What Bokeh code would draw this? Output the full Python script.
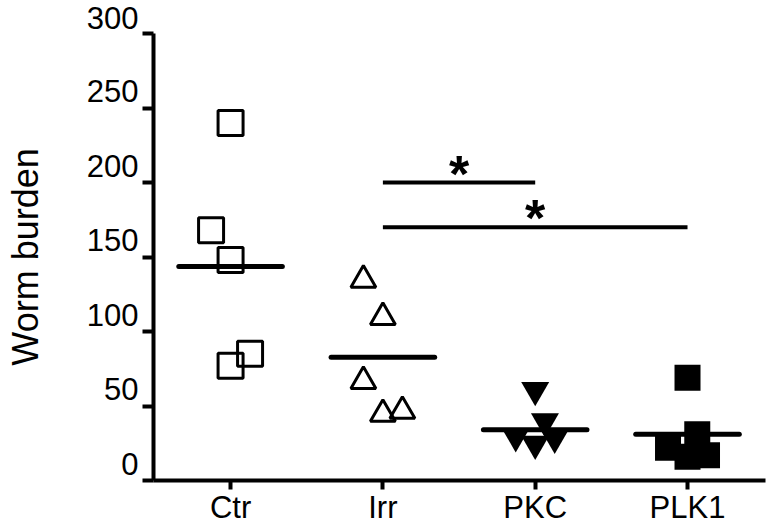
import numpy as np
from bokeh.plotting import figure
from bokeh.models import Range1d, FixedTicker, ColumnDataSource
from bokeh.core.properties import value
from bokeh.transform import dodge
from bokeh.embed import file_html
from bokeh.resources import INLINE

# ---------------- data ----------------
groups = ["Ctr", "Irr", "PKC", "PLK1"]
ctr = [240, 168, 148, 85, 77]
irr = [137, 112, 69, 47, 49]
pkc = [58, 37, 27, 22, 26]
plk1 = [69, 31, 22, 16, 17]
y_ticks = [0, 50, 100, 150, 200, 250, 300]
y_tick_labels = ["0", "50", "100", "150", "200", "250", "300"]
y_title = "Worm burden"
sig_from = ["Irr", "Irr"]
sig_to = ["PKC", "PLK1"]
sig_level = [200, 170]
sig_mark = ["*", "*"]

# ---------------- layout / style ----------------
slots = {
    "Ctr": [0, -1, 0, 1, 0],
    "Irr": [-1, 0, -1, 0, 1],
    "PKC": [0, 0.5, -1, 0, 1],
    "PLK1": [0, 0.5, -1, 0, 1],
}
SLOT_W = 0.128
MEAN_HALF = 0.34
FONT = "Liberation Sans"
X0, X1 = 0.494, 4.512
Y0, Y1 = 0, 300
FRAME_H = 447
PX = (Y1 - Y0) / FRAME_H  # data units per pixel

styles = {
    "Ctr": dict(marker="square", size=25, fill_color=None, line_color="black", line_width=3),
    "Irr": dict(marker="triangle", size=25, fill_color=None, line_color="black", line_width=3),
    "PKC": dict(marker="inverted_triangle", size=28, fill_color="black", line_color=None),
    "PLK1": dict(marker="square", size=26, fill_color="black", line_color=None),
}
y_shift_px = {"Ctr": 0, "Irr": -3.6, "PKC": 4.0, "PLK1": 0}

values = {"Ctr": ctr, "Irr": irr, "PKC": pkc, "PLK1": plk1}
xpos = {g: i + 1 for i, g in enumerate(groups)}

p = figure(width=771, height=527,
           x_range=Range1d(X0, X1), y_range=Range1d(Y0, Y1),
           output_backend="svg", toolbar_location=None,
           min_border_left=153, min_border_right=6,
           min_border_top=33, min_border_bottom=47)
p.outline_line_color = None
p.grid.visible = False
p.background_fill_color = "white"
p.border_fill_color = "white"

for g in groups:
    vals = values[g]
    xs = [xpos[g] + s * SLOT_W for s in slots[g]]
    src = ColumnDataSource(dict(x=xs, y=vals))
    p.scatter(x="x", y=dodge("y", y_shift_px[g] * PX, range=p.y_range), source=src, **styles[g])
    m = float(np.mean(vals))
    p.segment(x0=[xpos[g] - MEAN_HALF], x1=[xpos[g] + MEAN_HALF], y0=[m], y1=[m],
              line_color="black", line_width=5, line_cap="round")

# significance bars
sx0 = [xpos[a] for a in sig_from]
sx1 = [xpos[b] for b in sig_to]
p.segment(x0=sx0, x1=sx1, y0=sig_level, y1=sig_level, line_color="black", line_width=4)
p.text(x=[(a + b) / 2 for a, b in zip(sx0, sx1)], y=sig_level, text=sig_mark,
       text_font=value(FONT), text_font_style="bold", text_font_size="52px",
       text_align="center", text_baseline="alphabetic", y_offset=-9, text_color="black")

# y axis (labels sit just above their tick, as in the original)
ya = p.yaxis[0]
ya.ticker = FixedTicker(ticks=y_ticks)
ya.major_label_overrides = {t: lab + "\n" for t, lab in zip(y_ticks, y_tick_labels)}
ya.minor_tick_line_color = None
ya.major_tick_out = 11
ya.major_tick_in = 0
ya.major_tick_line_width = 4
ya.axis_line_width = 4
ya.major_label_standoff = 4
ya.major_label_text_font = FONT
ya.major_label_text_font_size = "31px"
ya.major_label_text_line_height = 0.92
ya.major_label_text_color = "black"
ya.axis_label = y_title
ya.axis_label_text_font = FONT
ya.axis_label_text_font_size = "36px"
ya.axis_label_text_font_style = "normal"
ya.axis_label_text_color = "black"
ya.axis_label_standoff = 38

# x axis
xa = p.xaxis[0]
xa.ticker = FixedTicker(ticks=[xpos[g] for g in groups])
xa.major_label_overrides = {xpos[g]: g for g in groups}
xa.minor_tick_line_color = None
xa.major_tick_out = 9
xa.major_tick_in = 0
xa.major_tick_line_width = 4
xa.axis_line_width = 4
xa.major_label_standoff = 0
xa.major_label_text_font = FONT
xa.major_label_text_font_size = "31px"
xa.major_label_text_line_height = 0.9
xa.major_label_text_color = "black"

open("out.html", "w").write(file_html(p, INLINE))
